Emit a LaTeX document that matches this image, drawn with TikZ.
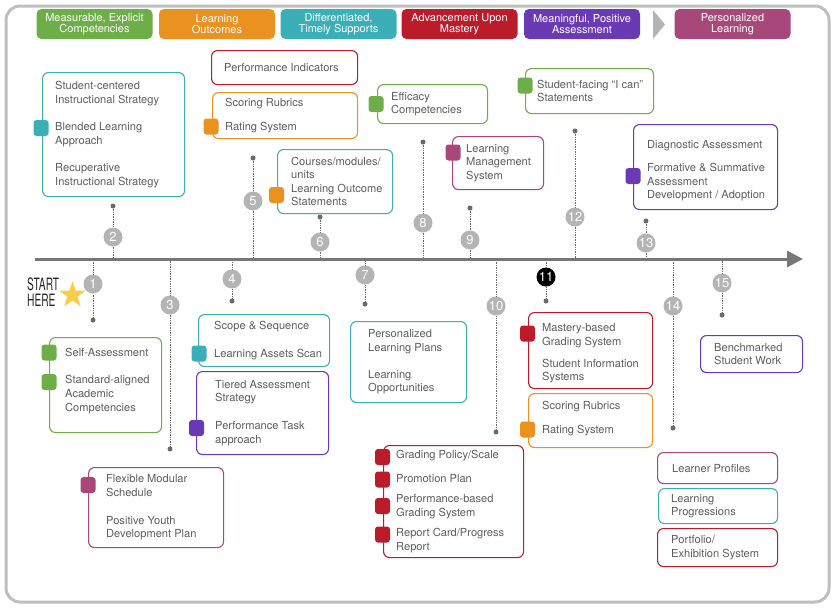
\documentclass[tikz,border=0pt]{standalone}
\usepackage{fontspec}
\setmainfont{TeX Gyre Heros}
\usepackage{graphicx}
\usetikzlibrary{arrows.meta,shapes.geometric}

\definecolor{cgreen}{HTML}{6DAE48}
\definecolor{corange}{HTML}{E9921F}
\definecolor{cteal}{HTML}{3AAFB7}
\definecolor{cred}{HTML}{BA1C2B}
\definecolor{cpurple}{HTML}{6A3AB4}
\definecolor{cmagenta}{HTML}{A8487A}
\definecolor{cnum}{HTML}{B4B4B4}
\definecolor{cdot}{HTML}{6A6A6A}
\definecolor{cline}{HTML}{777777}
\definecolor{cframe}{HTML}{BFBFBF}
\definecolor{ctext}{HTML}{5E5E5E}
\definecolor{cstar}{HTML}{F8CE46}

\newcommand\bxfont{\fontsize{11.1}{13.6}\selectfont}
\newcommand\hdfont{\fontsize{11}{11.6}\selectfont}
\newcommand\nmfont{\fontsize{13}{13}\selectfont}

\tikzset{ bx/.style = { rectangle % box
        , draw = #1
        , line width = 1.1pt
        , rounded corners = 6pt
        , fill = white
        , anchor = north west
        , inner sep = 0pt
        }
        , wh/.style 2 args = { minimum width = #1pt % size
        , minimum height = #2pt
        }
        , tx/.style = { anchor = west % text
        , align = left
        , inner sep = 0pt
        , text = ctext
        , font = \bxfont
        }
        , tab/.style = { rectangle % colour tab
        , fill = #1
        , rounded corners = 3pt
        , minimum width = 15pt
        , minimum height = 16pt
        , inner sep = 0pt
        }
        }

\begin{document}
\begin{tikzpicture}[x=1pt, y=-1pt,
        hd/.style={rectangle,fill=#1,rounded corners=5pt,text=white,minimum width=116pt,minimum height=30pt,inner sep=0pt,align=center,font=\hdfont},
        num/.style={circle,fill=#1,text=white,minimum size=19pt,inner sep=0pt,font=\nmfont},
        dt/.style={circle,fill=cdot,minimum size=5pt,inner sep=0pt},
        stem/.style={draw=cdot,line width=0.7pt,densely dotted}]

        \useasboundingbox (0,0) rectangle (835,608);
        \draw [cframe, line width=3pt, rounded corners=14pt] (6,6) rectangle (829,602);

        % header
        \node [hd=cgreen] (h1) at (94.5,24) {Measurable, Explicit\\Competencies};
        \node [hd=corange] (h2) at (217,24) {Learning\\Outcomes};
        \node [hd=cteal] (h3) at (338.5,24) {Differentiated,\\Timely Supports};
        \node [hd=cred] (h4) at (459.5,24) {Advancement Upon\\Mastery};
        \node [hd=cpurple] (h5) at (582,24) {Meaningful, Positive\\Assessment};
        \node [hd=cmagenta] (h6) at (732.5,24) {Personalized\\Learning};
        \fill [cnum] (653,10) -- (665,24.5) -- (653,39) -- cycle;

        % timeline
        \coordinate (tl) at (35,259);
        \coordinate (tle) at (803,259);
        \foreach \i/\x/\yn/\yd/\c in {1/93/284/320/cnum, 2/113/237/206/cnum, 3/170/305/449/cnum,
                4/232/279/301/cnum, 5/253/201/158/cnum, 6/320/242/217/cnum, 7/365/275/304/cnum,
                8/423/223/142/cnum, 9/470/240/208/cnum, 10/496/306/432/cnum, 11/546/277/301/black,
                12/575/217/131/cnum, 13/646/243/221/cnum, 14/673/306/428/cnum, 15/722/283/315/cnum}
        {
            \node [dt] (d\i) at (\x,\yd) {};
            \node [num=\c] (n\i) at (\x,\yn) {\i};
            \draw [stem] (d\i) -- (n\i) -- (n\i |- tl);
        }
        \draw [cline, line width=3pt, -{Triangle[length=16pt,width=16pt]}] (tl) -- (tle);

        % start
        \node [anchor=west, align=left, inner sep=0pt, text=black!85, font=\fontsize{17}{16.5}\selectfont] (start) at (27,292) {\scalebox{0.6}[1]{START}\\\scalebox{0.6}[1]{HERE}};
        \node [star, star points=5, star point ratio=2.6, fill=cstar, minimum size=28pt, inner sep=0pt] (st) at (72.5,295) {};

        % above the line
        \node [bx=cteal, wh={142}{124}] (bA) at (42,72) {};
        \node [tx] (tA) at ([xshift=13pt]bA.west) {Student-centered\\Instructional Strategy\\[13.6pt]Blended Learning\\Approach\\[13.6pt]Recuperative\\Instructional Strategy};
        \node [tab=cteal] (gA) at (41,128) {};

        \node [bx=cred, wh={146}{34}] (bB) at (211,50) {};
        \node [tx] (tB) at ([xshift=13pt]bB.west) {Performance Indicators};

        \node [bx=corange, wh={145}{46}] (bC) at (212,92) {};
        \node [tx] (tC) at ([xshift=13pt]bC.west) {Scoring Rubrics\\[10.4pt]Rating System};
        \node [tab=corange] (gC) at (211,126.5) {};

        \node [bx=cteal, wh={115}{64}] (bD) at (277,149) {};
        \node [tx] (tD) at ([xshift=14pt]bD.west) {Courses/modules/\\units\\Learning Outcome\\Statements};
        \node [tab=corange] (gD) at (276.5,195) {};

        \node [bx=cgreen, wh={110}{39}] (bE) at (377,84) {};
        \node [tx] (tE) at ([xshift=14pt]bE.west) {Efficacy\\Competencies};
        \node [tab=cgreen] (gE) at (376,104) {};

        \node [bx=cmagenta, wh={91}{53}] (bF) at (452,136) {};
        \node [tx] (tF) at ([xshift=14pt]bF.west) {Learning\\Management\\System};
        \node [tab=cmagenta] (gF) at (453,152.5) {};

        \node [bx=cgreen, wh={128}{45}] (bG) at (525,68) {};
        \node [tx] (tG) at ([xshift=12pt]bG.west) {Student-facing “I can”\\Statements};
        \node [tab=cgreen] (gG) at (525,85.5) {};

        \node [bx=cpurple, wh={144}{85}] (bH) at (633,124) {};
        \node [tx] (tH) at ([xshift=14pt,yshift=-4pt]bH.west) {Diagnostic Assessment\\[9.4pt]Formative \& Summative\\Assessment\\Development / Adoption};
        \node [tab=cpurple] (gH) at (633,176) {};

        % below the line
        \node [bx=cgreen, wh={112}{95}] (bI) at (49,337) {};
        \node [tx] (tI) at ([xshift=16pt,yshift=4pt]bI.west) {Self-Assessment\\[13.4pt]Standard-aligned\\Academic\\Competencies};
        \node [tab=cgreen] (gI1) at (49,352.5) {};
        \node [tab=cgreen] (gI2) at (49,382) {};

        \node [bx=cteal, wh={131}{52}] (bJ) at (198,314) {};
        \node [tx] (tJ) at ([xshift=16pt]bJ.west) {Scope \& Sequence\\[14.4pt]Learning Assets Scan};
        \node [tab=cteal] (gJ) at (199,353.5) {};

        \node [bx=cpurple, wh={132}{83}] (bK) at (196,371) {};
        \node [tx] (tK) at ([xshift=19pt]bK.west) {Tiered Assessment\\Strategy\\[14.4pt]Performance Task\\approach};
        \node [tab=cpurple] (gK) at (196.5,428) {};

        \node [bx=cteal, wh={116}{81}] (bL) at (350,321) {};
        \node [tx] (tL) at ([xshift=18pt]bL.west) {Personalized\\Learning Plans\\[13.4pt]Learning\\Opportunities};

        \node [bx=cred, wh={124}{76}] (bM) at (528,312) {};
        \node [tx] (tM) at ([xshift=14pt,yshift=-3pt]bM.west) {Mastery-based\\Grading System\\[8.4pt]Student Information\\Systems};
        \node [tab=cred] (gM) at (527.5,333.5) {};

        \node [bx=corange, wh={124}{54}] (bN) at (528,393) {};
        \node [tx] (tN) at ([xshift=14pt,yshift=2pt]bN.west) {Scoring Rubrics\\[10.4pt]Rating System};
        \node [tab=corange] (gN) at (527.5,429.5) {};

        \node [bx=cpurple, wh={102}{37}] (bO) at (700,335) {};
        \node [tx] (tO) at ([xshift=14pt]bO.west) {Benchmarked\\Student Work};

        \node [bx=cred, wh={140}{112}] (bP) at (383,445) {};
        \node [tx] (tP) at ([xshift=13pt]bP.west) {Grading Policy/Scale\\[10.4pt]Promotion Plan\\[6.4pt]Performance-based\\Grading System\\[6.4pt]Report Card/Progress\\Report};
        \node [tab=cred] (gP1) at (382.5,457) {};
        \node [tab=cred] (gP2) at (382.5,479.5) {};
        \node [tab=cred] (gP3) at (382.5,506) {};
        \node [tab=cred] (gP4) at (382.5,534.5) {};

        \node [bx=cmagenta, wh={135}{80}] (bQ) at (88,467) {};
        \node [tx] (tQ) at ([xshift=18pt]bQ.west) {Flexible Modular\\Schedule\\[14.4pt]Positive Youth\\Development Plan};
        \node [tab=cmagenta] (gQ) at (88,485) {};

        \node [bx=cmagenta, wh={120}{31}] (bR) at (657,452) {};
        \node [tx] (tR) at ([xshift=15pt]bR.west) {Learner Profiles};

        \node [bx=cteal, wh={119}{35}] (bS) at (658,488) {};
        \node [tx] (tS) at ([xshift=13pt]bS.west) {Learning\\Progressions};

        \node [bx=cred, wh={120}{38}] (bT) at (657,528) {};
        \node [tx] (tT) at ([xshift=14pt]bT.west) {Portfolio/\\Exhibition System};

\end{tikzpicture}
\end{document}
